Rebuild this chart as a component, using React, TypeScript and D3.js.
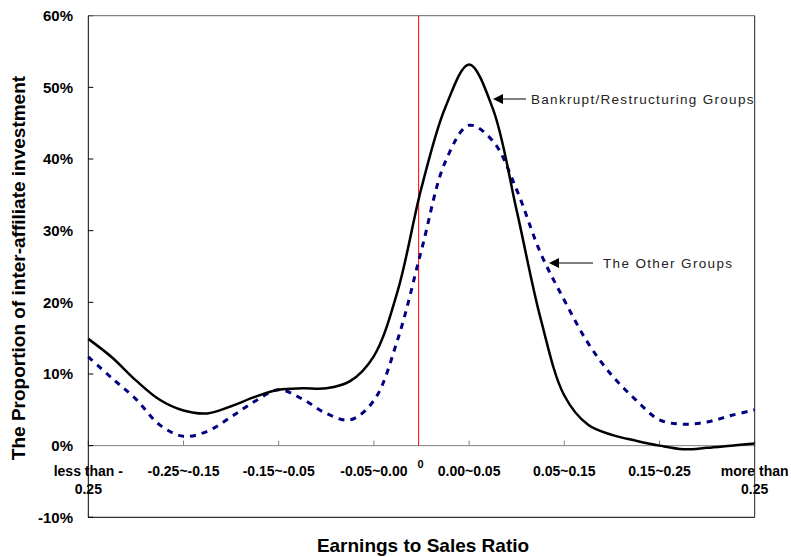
import * as d3 from 'd3'

// x positions are in category-index units (0 = first category, 7 = last)
const categoryLabels: string[][] = [
  ['less than -', '0.25'],
  ['-0.25~-0.15'],
  ['-0.15~-0.05'],
  ['-0.05~0.00'],
  ['0.00~0.05'],
  ['0.05~0.15'],
  ['0.15~0.25'],
  ['more than', '0.25'],
]

const samplePositions = [
  0, 0.25, 0.5, 0.75, 1, 1.25, 1.5, 1.75, 2, 2.25, 2.5, 2.75, 3, 3.25, 3.5,
  3.75, 4, 4.25, 4.5, 4.75, 5, 5.25, 5.5, 5.75, 6, 6.25, 6.5, 6.75, 7,
]

const bankrupt = [
  14.9, 12.3, 9.1, 6.4, 4.9, 4.5, 5.5, 6.8, 7.8, 8.0, 8.0, 9.0, 12.5, 21.6, 36.0,
  47.2, 53.2, 47.0, 32.8, 17.8, 7.0, 2.9, 1.5, 0.7, 0.0, -0.5, -0.3, 0.0, 0.3,
]

const otherGroups = [
  12.4, 9.4, 6.5, 2.9, 1.3, 2.0, 4.0, 6.2, 7.8, 6.5, 4.5, 3.6, 6.3, 14.8, 27.3,
  39.6, 44.7, 42.5, 35.7, 26.9, 20.3, 14.3, 9.8, 6.4, 3.6, 3.0, 3.3, 4.2, 5.0,
]

const yTicks = [-10, 0, 10, 20, 30, 40, 50, 60]
const zeroMarker = 3.47

const W = 791
const H = 557
const left = 88.3
const right = 754.7
const top = 15.7
const bottom = 517.3
const font = 'Arial, "Liberation Sans", sans-serif'

export default function App() {
  const x = d3.scaleLinear().domain([0, 7]).range([left, right])
  const y = d3.scaleLinear().domain([-10, 60]).range([bottom, top])

  const line = d3
    .line<number>()
    .x((_, i) => x(samplePositions[i]))
    .y(d => y(d))
    .curve(d3.curveCatmullRom.alpha(0.5))

  const ann1Y = 99
  const ann2Y = 263

  return (
    <svg width={W} height={H} style={{ position: 'absolute', left: 0, top: 0 }} fontFamily={font}>
      <rect x={0} y={0} width={W} height={H} fill="#fff" />

      {/* zero line and category ticks */}
      <line x1={left} x2={right} y1={y(0)} y2={y(0)} stroke="#808080" strokeWidth={1} />
      {categoryLabels.map((_, i) => (
        <line key={i} x1={x(i)} x2={x(i)} y1={y(0)} y2={y(0) - 5} stroke="#808080" />
      ))}

      {/* y ticks */}
      {yTicks.map(t => (
        <g key={t}>
          <line x1={left} x2={left + 5} y1={y(t)} y2={y(t)} stroke="#000" />
          <text x={73} y={y(t) + 5.3} textAnchor="end" fontSize={15} fontWeight="bold">
            {t}%
          </text>
        </g>
      ))}

      {/* category labels */}
      {categoryLabels.map((lines, i) =>
        lines.map((s, j) => (
          <text key={`${i}-${j}`} x={x(i)} y={475.5 + j * 18.5} textAnchor="middle" fontSize={14} fontWeight="bold">
            {s}
          </text>
        ))
      )}
      <text x={x(zeroMarker) + 2} y={468} textAnchor="middle" fontSize={11} fontWeight="bold">0</text>

      {/* red marker at zero */}
      <line x1={x(zeroMarker)} x2={x(zeroMarker)} y1={top} y2={y(0)} stroke="#ff0000" strokeWidth={1} />

      {/* series */}
      <path d={line(otherGroups) ?? ''} fill="none" stroke="#000080" strokeWidth={3} strokeDasharray="6,6" />
      <path d={line(bankrupt) ?? ''} fill="none" stroke="#000" strokeWidth={2.5} />

      {/* frame */}
      <line x1={left} x2={right} y1={top} y2={top} stroke="#666" />
      <line x1={left} x2={left} y1={top} y2={bottom} stroke="#000" />
      <line x1={right} x2={right} y1={top} y2={bottom} stroke="#222" />
      <line x1={left} x2={right} y1={bottom} y2={bottom} stroke="#000" />

      {/* annotations */}
      <line x1={526} x2={500} y1={ann1Y} y2={ann1Y} stroke="#000" />
      <path d={`M493,${ann1Y} L503,${ann1Y - 5} L503,${ann1Y + 5} Z`} fill="#000" />
      <text x={531} y={ann1Y + 5} fontSize={13.5} letterSpacing={1.3} fill="#222">
        Bankrupt/Restructuring Groups
      </text>
      <line x1={593} x2={556} y1={ann2Y} y2={ann2Y} stroke="#000" />
      <path d={`M549,${ann2Y} L559,${ann2Y - 5} L559,${ann2Y + 5} Z`} fill="#000" />
      <text x={603} y={ann2Y + 5} fontSize={13.5} letterSpacing={1.35} fill="#222">
        The Other Groups
      </text>

      {/* axis titles */}
      <text x={423} y={552} textAnchor="middle" fontSize={19} fontWeight="bold">
        Earnings to Sales Ratio
      </text>
      <text
        transform={`translate(24.5,268) rotate(-90)`}
        textAnchor="middle"
        fontSize={19}
        fontWeight="bold"
      >
        The Proportion of inter-affiliate investment
      </text>
    </svg>
  )
}
